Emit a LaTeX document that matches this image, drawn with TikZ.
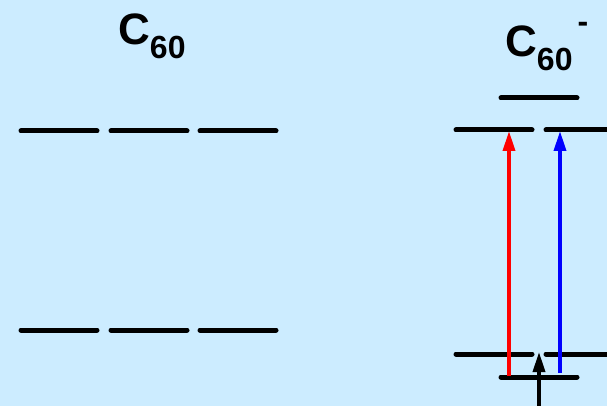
\documentclass[tikz,border=0pt]{standalone}
\usepackage{fontspec}
\setmainfont{Liberation Sans}
\usetikzlibrary{arrows.meta}
\definecolor{bgblue}{RGB}{204,236,255}
\newcommand{\subsz}{\fontsize{32}{32}\selectfont}
\begin{document}
\begin{tikzpicture}[x=1pt,y=-1pt,
  level/.style={line width=5pt,line cap=round},
  trans/.style={line width=3.5pt,-{Triangle[length=20pt,width=12pt]}},
  title/.style={font=\bfseries\fontsize{44}{44}\selectfont,inner sep=0pt,anchor=base west}]
\fill[bgblue] (0,0) rectangle (607,406);
\useasboundingbox (0,0) rectangle (607,406);
% neutral C60 levels
\foreach \y in {131,330}{
  \draw[level] (21,\y) -- (97,\y);
  \draw[level] (111,\y) -- (187,\y);
  \draw[level] (200,\y) -- (276,\y);
}
\node[title] (t1) at (118,45) {C\raisebox{-14pt}{\subsz 60}};
% anion levels
\node[title] (t2) at (505,57) {C\raisebox{-14pt}{\subsz 60}\hspace{5pt}\raisebox{24pt}{\subsz -}};
\draw[level] (501,98) -- (577,98);
\draw[level] (456,130) -- (532,130);
\draw[level] (546,130) -- (620,130);
\draw[level] (456,354) -- (532,354);
\draw[level] (546,354) -- (620,354);
\draw[level] (501,377) -- (577,377);
\coordinate (r0) at (509,376);
\coordinate (r1) at (509,131);
\coordinate (b0) at (560,373);
\coordinate (b1) at (560,131);
\coordinate (k0) at (539,410);
\coordinate (k1) at (539,352);
\draw[trans,red] (r0) -- (r1);
\draw[trans,blue] (b0) -- (b1);
\draw[trans,black] (k0) -- (k1);
\end{tikzpicture}
\end{document}
